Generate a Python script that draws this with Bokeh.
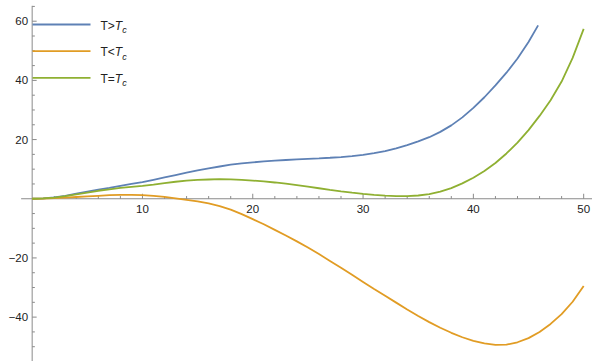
import numpy as np
from bokeh.plotting import figure
from bokeh.models import Label, BoxAnnotation
from bokeh.core.properties import value
from bokeh.embed import file_html
from bokeh.resources import INLINE

# Free-energy curves sampled along the order parameter
x_above = list(range(0, 46)) + [45.87]
f_above = [0, 0.12, 0.45, 1.0, 1.7, 2.4, 3.1, 3.7, 4.35, 5.0, 5.6, 6.4, 7.2, 8.0, 8.8, 9.6,
           10.3, 10.9, 11.5, 11.95, 12.3, 12.6, 12.9, 13.1, 13.3, 13.5, 13.65, 13.85, 14.1,
           14.4, 14.8, 15.4, 16.1, 17.0, 18.1, 19.4, 20.8, 22.6, 24.8, 27.5, 30.7, 34.3,
           38.3, 42.6, 47.4, 53.0, 58.6]

x_below = list(range(0, 51))
f_below = [0, 0.05, 0.2, 0.4, 0.6, 0.8, 1.0, 1.2, 1.3, 1.3, 1.2, 0.95, 0.6, 0.15, -0.35,
           -0.9, -1.6, -2.5, -3.7, -5.2, -6.9, -8.6, -10.5, -12.4, -14.4, -16.5, -18.7,
           -21.0, -23.3, -25.7, -28.1, -30.5, -32.8, -35.1, -37.4, -39.6, -41.7, -43.6,
           -45.3, -46.8, -48.0, -48.9, -49.4, -49.3, -48.5, -47.1, -45.0, -42.3, -39.0,
           -34.8, -29.5]

x_crit = list(range(0, 51))
f_crit = [0, 0.1, 0.4, 0.9, 1.5, 2.1, 2.7, 3.2, 3.65, 4.0, 4.35, 4.8, 5.3, 5.75, 6.1, 6.35,
          6.5, 6.6, 6.55, 6.4, 6.15, 5.85, 5.5, 5.1, 4.6, 4.1, 3.55, 3.0, 2.5, 2.05, 1.65,
          1.3, 1.05, 0.9, 0.9, 1.1, 1.6, 2.4, 3.6, 5.2, 7.1, 9.4, 12.1, 15.3, 19.0, 23.2,
          28.0, 33.3, 39.6, 47.6, 57.4]

x_major = [10, 20, 30, 40, 50]
x_minor = [v for v in range(2, 51, 2) if v % 10 != 0]
y_major = [-40, -20, 20, 40, 60]
y_labels = ["\u221240", "\u221220", "20", "40", "60"]
y_minor = [v for v in range(-50, 66, 5) if v % 20 != 0 and v != 0]

BLUE, ORANGE, GREEN = "#5E81B5", "#E19C24", "#8FB032"
AXIS = "#8a8a8a"
TEXT = "#222222"
FONT = "Liberation Sans"

p = figure(width=592, height=361, x_range=(-2.87, 50.8), y_range=(-55.0, 67.0),
           x_axis_location=None, y_axis_location=None, min_border=0,
           toolbar_location=None, output_backend="svg")
p.grid.visible = False
p.outline_line_color = None
p.background_fill_color = "white"

# axes crossing at the origin
p.segment(x0=[-1.0], y0=[0], x1=[50.8], y1=[0], line_color=AXIS, line_width=1)
p.segment(x0=[0], y0=[-55.0], x1=[0], y1=[65.2], line_color=AXIS, line_width=1)

# ticks pointing into the plot
p.ray(x=x_major, y=0, length=5, length_units="screen", angle=np.pi / 2, line_color=AXIS)
p.ray(x=x_minor, y=0, length=2.7, length_units="screen", angle=np.pi / 2, line_color=AXIS)
p.ray(x=0, y=y_major, length=4.5, length_units="screen", angle=0, line_color=AXIS)
p.ray(x=0, y=y_minor, length=2.7, length_units="screen", angle=0, line_color=AXIS)

p.text(x=x_major, y=0, text=[str(v) for v in x_major], text_align="center", text_baseline="top",
       y_offset=6, text_font=value(FONT), text_font_size="11.5px", text_color=TEXT)
p.text(x=0, y=y_major, text=y_labels, text_align="right", text_baseline="middle",
       x_offset=-4, text_font=value(FONT), text_font_size="11.5px", text_color=TEXT)

# curves
p.line(x_above, f_above, line_color=BLUE, line_width=1.8)
p.line(x_below, f_below, line_color=ORANGE, line_width=1.8)
p.line(x_crit, f_crit, line_color=GREEN, line_width=1.8)

# legend with subscripted T_c
entries = [("T>", BLUE), ("T<", ORANGE), ("T=", GREEN)]
rows = [337.0, 310.3, 283.7]
for (prefix, color), yy in zip(entries, rows):
    p.add_layout(BoxAnnotation(left=32, right=90, top=yy + 0.9, bottom=yy - 0.9,
                               left_units="screen", right_units="screen",
                               top_units="screen", bottom_units="screen",
                               fill_color=color, fill_alpha=1, line_color=None))
    p.add_layout(Label(x=100, y=yy - 1, x_units="screen", y_units="screen", text=prefix,
                       text_baseline="middle", text_font=FONT, text_font_size="12px",
                       text_color=TEXT))
    p.add_layout(Label(x=114.3, y=yy - 1, x_units="screen", y_units="screen", text="T",
                       text_baseline="middle", text_font=FONT, text_font_size="12px",
                       text_font_style="italic", text_color=TEXT))
    p.add_layout(Label(x=121.8, y=yy - 5.5, x_units="screen", y_units="screen", text="c",
                       text_baseline="middle", text_font=FONT, text_font_size="9px",
                       text_font_style="italic", text_color=TEXT))

open("out.html", "w").write(file_html(p, INLINE))
